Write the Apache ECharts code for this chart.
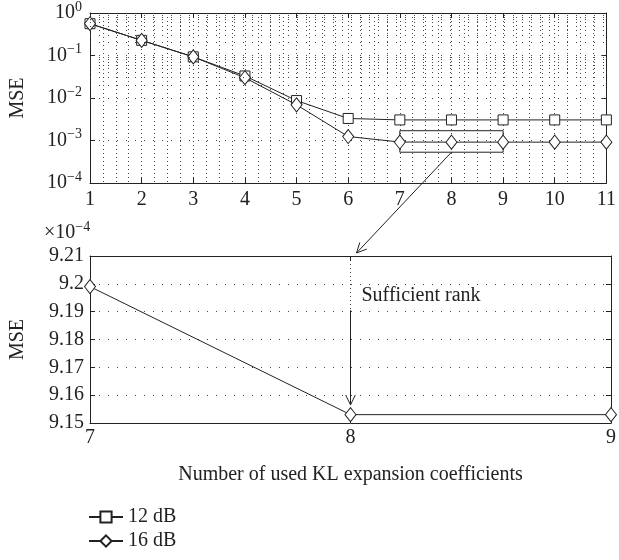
<!DOCTYPE html>
<html>
<head>
<meta charset="utf-8">
<script src="https://cdn.jsdelivr.net/npm/echarts@6/dist/echarts.min.js"></script>
<style>
html,body{margin:0;padding:0;background:#fff;}
#chart{width:619px;height:560px;}
</style>
</head>
<body>
<div id="chart"></div>
<script>
// ---- data ----
const xs = [1, 2, 3, 4, 5, 6, 7, 8, 9, 10, 11];
const mse12dB = [0.56, 0.227, 0.093, 0.033, 0.0087, 0.0033, 0.00305, 0.00305, 0.00305, 0.00305, 0.00305];
const mse16dB = [0.56, 0.227, 0.093, 0.030, 0.0069, 0.00124, 9.199e-4, 9.153e-4, 9.153e-4, 9.153e-4, 9.153e-4];
const zoomRange = [7, 9];
const zoomScale = 1e4;           // bottom plot shows MSE x 10^-4
const zoomYTicks = [9.15, 9.16, 9.17, 9.18, 9.19, 9.20, 9.21];
const zoomBoxY = [5.3e-4, 1.7e-3];   // annotation rectangle in top plot
const rankArrowX = 8;
const rankArrowY = [9.1905, 9.1565];
const legendNames = ['12 dB', '16 dB'];

// ---- styling ----
const INK = '#222';
const FONT = '"Liberation Serif", "DejaVu Serif", serif';
const FS = 20;
const VGRID = { color: '#444', width: 1, type: [1, 3] };
const HGRID = { color: '#444', width: 1, type: [1, 8] };

const minorLogValues = [];
for (let e = -4; e < 0; e++) {
  for (let m = 2; m <= 9; m++) minorLogValues.push(m * Math.pow(10, e));
}

const supLabel = v => {
  const e = Math.round(Math.log10(v));
  return '{b|10}{s|' + (e < 0 ? '\u2212' + (-e) : e) + '}';
};

const richSup = {
  b: { fontFamily: FONT, fontSize: FS, color: INK },
  s: { fontFamily: FONT, fontSize: 14, color: INK, padding: [0, 0, 12, 0] }
};

const baseAxis = {
  axisLine: { show: true, onZero: false, lineStyle: { color: INK, width: 1 } },
  axisTick: { show: true, inside: true, length: 5, lineStyle: { color: INK } },
  axisLabel: { fontFamily: FONT, fontSize: FS, color: INK },
  splitLine: { show: false }
};

function axis(extra) {
  return Object.assign({}, JSON.parse(JSON.stringify(baseAxis)), extra);
}

const zoomData = xs.map((x, i) => [x, mse16dB[i] * zoomScale])
  .filter(p => p[0] >= zoomRange[0] && p[0] <= zoomRange[1]);

const lineCommon = {
  type: 'line',
  lineStyle: { color: INK, width: 1 },
  itemStyle: { color: '#fff', borderColor: INK, borderWidth: 1 },
  showAllSymbol: true,
  animation: false
};

const chart = echarts.init(document.getElementById('chart'), null, { renderer: 'canvas' });

const legendCommon = {
  orient: 'vertical', left: 88, padding: 0,
  itemWidth: 34, itemHeight: 14,
  textStyle: { fontFamily: FONT, fontSize: FS, color: INK },
  selectedMode: false
};

const option = {
  animation: false,
  backgroundColor: '#fff',
  grid: [
    { left: 88, right: 8, top: 12, height: 171, show: false },
    { left: 88, right: 8, top: 256, height: 167, show: false }
  ],
  xAxis: [
    axis({ gridIndex: 0, type: 'value', min: 1, max: 11, interval: 1, position: 'bottom',
      axisLabel: { fontFamily: FONT, fontSize: FS, color: INK, margin: 7 },
      splitLine: { show: true, lineStyle: VGRID },
      minorTick: { show: false, splitNumber: 4 },
      minorSplitLine: { show: true, lineStyle: VGRID } }),
    axis({ gridIndex: 0, type: 'value', min: 1, max: 11, interval: 1, position: 'top',
      axisLabel: { show: false } }),
    axis({ gridIndex: 1, type: 'value', min: zoomRange[0], max: zoomRange[1], interval: 1, position: 'bottom',
      axisLabel: { fontFamily: FONT, fontSize: FS, color: INK, margin: 5 },
      splitLine: { show: true, lineStyle: VGRID },
      name: 'Number of used KL expansion coefficients', nameLocation: 'middle', nameGap: 42,
      nameTextStyle: { fontFamily: FONT, fontSize: FS, color: INK } }),
    axis({ gridIndex: 1, type: 'value', min: zoomRange[0], max: zoomRange[1], interval: 1, position: 'top',
      axisLabel: { show: false } })
  ],
  yAxis: [
    axis({ gridIndex: 0, type: 'log', logBase: 10, min: 1e-4, max: 1, position: 'left',
      axisLabel: { formatter: supLabel, rich: richSup, margin: 8 },
      splitLine: { show: true, lineStyle: HGRID },
      name: 'MSE', nameLocation: 'middle', nameGap: 62,
      nameTextStyle: { fontFamily: FONT, fontSize: FS, color: INK } }),
    axis({ gridIndex: 0, type: 'log', logBase: 10, min: 1e-4, max: 1, position: 'right',
      axisLabel: { show: false } }),
    axis({ gridIndex: 1, type: 'value', min: zoomYTicks[0], max: zoomYTicks[zoomYTicks.length - 1], interval: 0.01, position: 'left',
      axisLabel: { fontFamily: FONT, fontSize: FS, color: INK, margin: 6,
        formatter: v => String(parseFloat(v.toFixed(2))) },
      splitLine: { show: true, lineStyle: HGRID },
      name: 'MSE', nameLocation: 'middle', nameGap: 62,
      nameTextStyle: { fontFamily: FONT, fontSize: FS, color: INK } }),
    axis({ gridIndex: 1, type: 'value', min: zoomYTicks[0], max: zoomYTicks[zoomYTicks.length - 1], interval: 0.01, position: 'right',
      axisLabel: { show: false } })
  ],
  legend: [
    Object.assign({}, legendCommon, { data: [legendNames[0]], top: 507 }),
    Object.assign({}, legendCommon, { data: [legendNames[1]], top: 531 })
  ],
  series: [
    Object.assign({}, lineCommon, {
      name: legendNames[0], xAxisIndex: 0, yAxisIndex: 0,
      symbol: 'rect', symbolSize: 10,
      data: xs.map((x, i) => [x, mse12dB[i]]),
      markLine: {
        silent: true, symbol: 'none', label: { show: false },
        lineStyle: HGRID, animation: false,
        data: minorLogValues.map(v => ({ yAxis: v }))
      }
    }),
    Object.assign({}, lineCommon, {
      name: legendNames[1], xAxisIndex: 0, yAxisIndex: 0,
      symbol: 'diamond', symbolSize: [11, 14],
      data: xs.map((x, i) => [x, mse16dB[i]]),
      markArea: {
        silent: true,
        itemStyle: { color: 'rgba(0,0,0,0)', borderColor: INK, borderWidth: 1 },
        data: [[{ coord: [zoomRange[0], zoomBoxY[1]] }, { coord: [zoomRange[1], zoomBoxY[0]] }]]
      }
    }),
    Object.assign({}, lineCommon, {
      name: 'zoom16', xAxisIndex: 2, yAxisIndex: 2,
      symbol: 'diamond', symbolSize: [11, 14],
      data: zoomData,
      markLine: {
        silent: true, symbol: 'none',
        label: { show: false },
        lineStyle: { color: INK, width: 1, type: 'solid' },
        data: [[{ coord: [rankArrowX, rankArrowY[0]] }, { coord: [rankArrowX, rankArrowY[1]] }]]
      }
    })
  ]
};

chart.setOption(option);

function arrowHead(from, tip) {
  const ang = Math.atan2(tip[1] - from[1], tip[0] - from[0]);
  const L = 11, spread = 0.45;
  return [
    [tip[0] - L * Math.cos(ang - spread), tip[1] - L * Math.sin(ang - spread)],
    tip,
    [tip[0] - L * Math.cos(ang + spread), tip[1] - L * Math.sin(ang + spread)]
  ];
}

// annotations positioned through the axes
function addAnnotations() {
  const start = chart.convertToPixel({ gridIndex: 0 }, [rankArrowX, zoomBoxY[0]]);
  const target = chart.convertToPixel({ gridIndex: 1 }, [rankArrowX, zoomYTicks[zoomYTicks.length - 1]]);
  const tip = [target[0] + 6, target[1] - 3];
  const vFrom = chart.convertToPixel({ gridIndex: 1 }, [rankArrowX, rankArrowY[0]]);
  const vTip = chart.convertToPixel({ gridIndex: 1 }, [rankArrowX, rankArrowY[1]]);
  const textPos = chart.convertToPixel({ gridIndex: 1 }, [rankArrowX, 9.195]);
  chart.setOption({
    graphic: [
      { type: 'line', shape: { x1: start[0], y1: start[1], x2: tip[0], y2: tip[1] },
        style: { stroke: INK, lineWidth: 1 }, z: 100 },
      { type: 'polyline', shape: { points: arrowHead(start, tip) },
        style: { stroke: INK, lineWidth: 1, fill: null }, z: 100 },
      { type: 'polyline', shape: { points: arrowHead(vFrom, vTip) },
        style: { stroke: INK, lineWidth: 1, fill: null }, z: 100 },
      { type: 'text', left: textPos[0] + 11, top: textPos[1] - 12,
        style: { text: 'Sufficient rank', font: FS + 'px ' + FONT, fill: INK }, z: 100 },
      { type: 'text', left: 44, top: 220,
        style: { text: '{m|\u00d710}{s|\u22124}', rich: {
          m: { fontFamily: FONT, fontSize: FS, fill: INK, color: INK },
          s: { fontFamily: FONT, fontSize: 14, fill: INK, color: INK, padding: [0, 0, 12, 0] } } }, z: 100 }
    ]
  });
}
addAnnotations();
</script>
</body>
</html>
